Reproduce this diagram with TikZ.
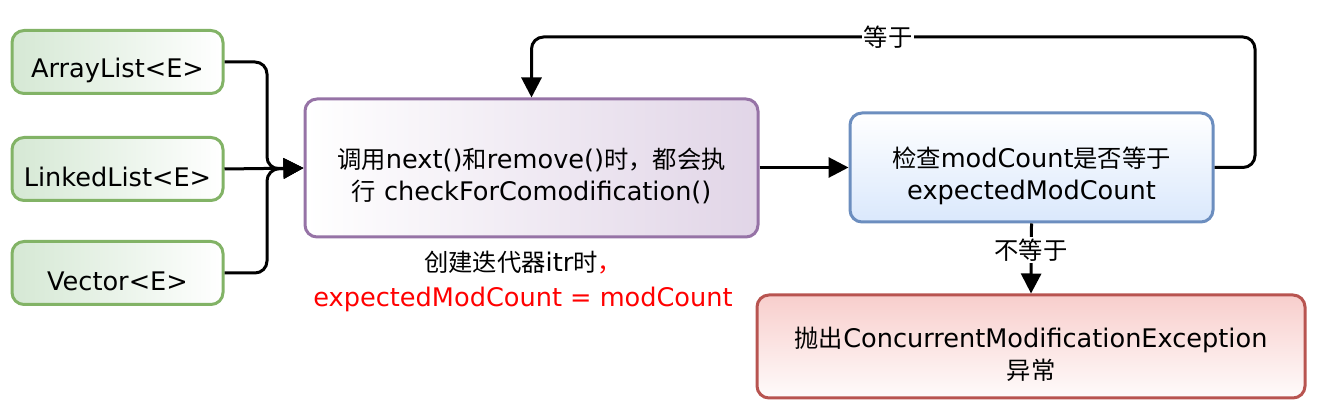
\documentclass[tikz,border=0pt]{standalone}
\usepackage{fontspec}
\setmainfont{DejaVu Sans}
\newfontfamily\cjk{Noto Sans CJK SC}[Scale=0.95]
\usetikzlibrary{arrows.meta}
\definecolor{gfill}{HTML}{D5E8D4}\definecolor{gline}{HTML}{82B366}
\definecolor{pfill}{HTML}{E1D5E7}\definecolor{pline}{HTML}{9673A6}
\definecolor{bfill}{HTML}{DAE8FC}\definecolor{bline}{HTML}{6C8EBF}
\definecolor{rfill}{HTML}{F8CECC}\definecolor{rline}{HTML}{B85450}
\definecolor{redtxt}{HTML}{FF0000}
\tikzset{
  txt/.style={font=\fontsize{12.8}{16}\selectfont, align=center, inner sep=0pt},
  intxt/.style={txt, yshift=-4pt},
  box/.style={rounded corners=6pt, line width=1.5pt, inner sep=0pt},
  gbox/.style={box, draw=gline, left color=gfill, right color=white, minimum width=105.5pt, minimum height=31.5pt},
  conn/.style={line width=1.5pt, rounded corners=6pt, -{Triangle[length=10pt,width=10pt]}},
  lbl/.style={txt, fill=white, inner sep=1pt}
}
\begin{document}
\begin{tikzpicture}[x=0.5pt,y=-0.5pt]
\useasboundingbox (0,0) rectangle (1320,410);
\node[gbox] (A) at (117.5,62) {};
\node[intxt] (At) at (A) {ArrayList<E>};
\node[gbox] (L) at (117.5,169) {};
\node[intxt] (Lt) at (L) {LinkedList<E>};
\node[gbox] (V) at (117.5,273) {};
\node[intxt] (Vt) at (V) {Vector<E>};
\node[box, draw=pline, left color=white, right color=pfill, minimum width=226.5pt, minimum height=69pt] (P) at (531.5,168) {};
\node[intxt] (Pt) at (P)
  {{\cjk 调用}next(){\cjk 和}remove(){\cjk 时，都会执}\\{\cjk 行} checkForComodification()};
\node[box, draw=bline, top color=white, bottom color=bfill, minimum width=181.5pt, minimum height=54.5pt] (B) at (1031.5,167.5) {};
\node[intxt] (Bt) at (B)
  {{\cjk 检查}modCount{\cjk 是否等于}\\expectedModCount};
\node[box, draw=rline, top color=rfill, bottom color=white!92!rfill, minimum width=274pt, minimum height=51.5pt] (R) at (1031,346.5) {};
\node[intxt] (Rt) at (R)
  {{\cjk 抛出}ConcurrentModificationException\\{\cjk 异常}};
\node[txt, font=\fontsize{12.8}{17.5}\selectfont] (note) at (523,281)
  {{\cjk 创建迭代器}itr{\cjk 时\textcolor{redtxt}{，}}\\\textcolor{redtxt}{expectedModCount = modCount}};
\coordinate (j) at (267,169);
\coordinate (r1) at (1255,37);
\draw[conn] (A.east) -| (j) -- (P.west);
\draw[conn] (V.east) -| (j) -- (P.west);
\draw[conn] (L.east) -- (P.west);
\draw[conn] (P.east |- B.west) -- (B.west);
\draw[conn] (B.east) -| (r1) -| (P.north);
\draw[conn] (B.south) -- (R.north);
\node[lbl] (eq) at (888,37) {\cjk 等于};
\node[lbl] (neq) at (1031,250) {\cjk 不等于};
\end{tikzpicture}
\end{document}
